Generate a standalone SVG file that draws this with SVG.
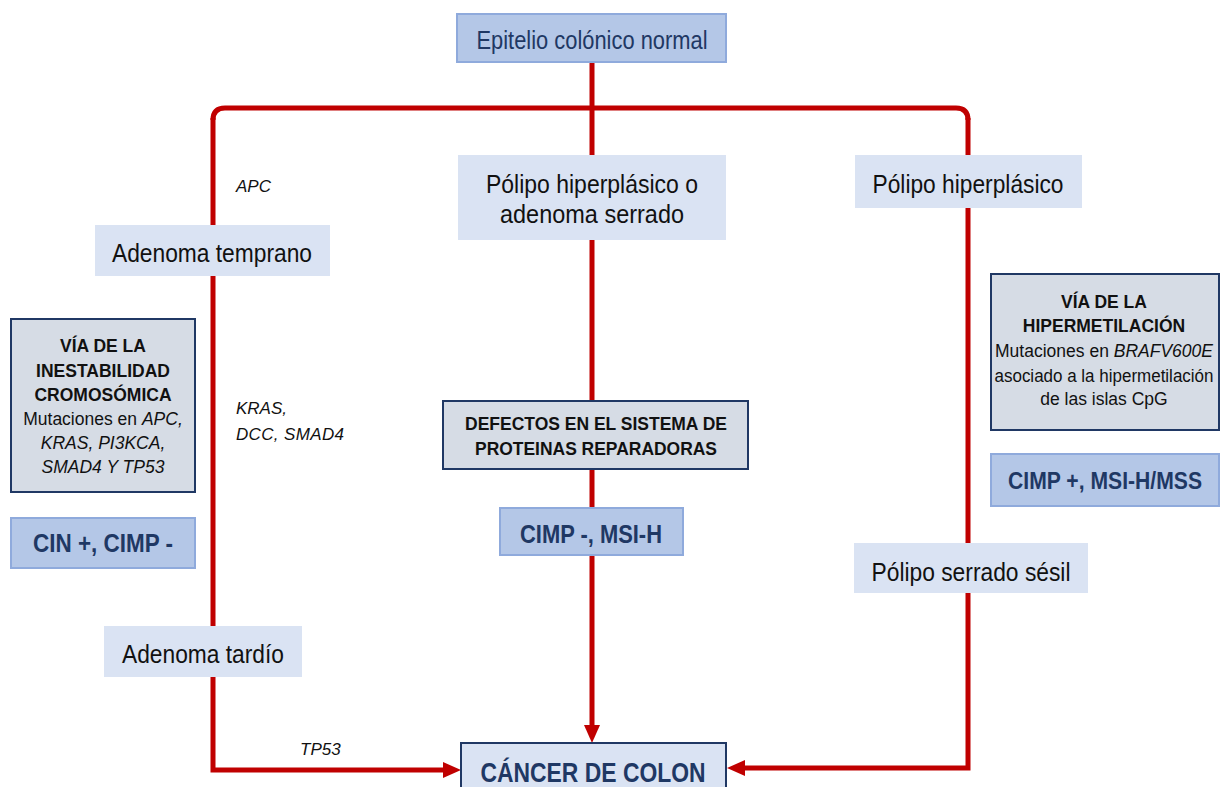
<svg xmlns="http://www.w3.org/2000/svg" width="1220" height="787" viewBox="0 0 1220 787">
<style>
.lb{fill:#dae3f3;stroke:none}
.mb{fill:#b4c7e7;stroke:#8faadc;stroke-width:2}
.gb{fill:#d6dce5;stroke:#203864;stroke-width:2}
.cb{fill:#dae3f3;stroke:#203864;stroke-width:2}
.t{font-family:"Liberation Sans",Arial,sans-serif;font-size:25px;fill:#111;text-anchor:middle}
.nv{font-family:"Liberation Sans",Arial,sans-serif;font-size:26px;font-weight:bold;fill:#1f3864;text-anchor:middle}
.s{font-family:"Liberation Sans",Arial,sans-serif;font-size:17.5px;fill:#111;text-anchor:middle}
.sb{font-weight:bold}
.gi{font-family:"Liberation Sans",Arial,sans-serif;font-size:17px;font-style:italic;fill:#111}
.ln{fill:none;stroke:#c00000;stroke-width:5}
</style>
<defs>
<marker id="ah" markerUnits="userSpaceOnUse" markerWidth="18" markerHeight="18" refX="0" refY="8" orient="auto">
<path d="M0,0 L18,8 L0,16 z" fill="#c00000"/>
</marker>
</defs>
<g id="connectors">
<path class="ln" d="M213 120 Q213 108 225 108 L956 108 Q968 108 968 120"/>
<path class="ln" d="M592 62 L592 725" marker-end="url(#ah)"/>
<path class="ln" d="M213 118 L213 770 L443 770" marker-end="url(#ah)"/>
<path class="ln" d="M968 118 L968 768 L745 768" marker-end="url(#ah)"/>
</g>
<g id="epitelio">
<rect class="mb" x="457" y="14" width="269" height="48"/>
<text class="t" x="592" y="49" style="fill:#1f3864" textLength="231" lengthAdjust="spacingAndGlyphs">Epitelio colónico normal</text>
</g>
<g id="polipo-hiper-serrado">
<rect class="lb" x="458" y="155" width="268" height="85"/>
<text class="t" x="592" y="193" textLength="212" lengthAdjust="spacingAndGlyphs">Pólipo hiperplásico o</text>
<text class="t" x="592" y="223" textLength="184" lengthAdjust="spacingAndGlyphs">adenoma serrado</text>
</g>
<g id="polipo-hiper">
<rect class="lb" x="855" y="155" width="227" height="53"/>
<text class="t" x="968" y="193" textLength="191" lengthAdjust="spacingAndGlyphs">Pólipo hiperplásico</text>
</g>
<g id="adenoma-temprano">
<rect class="lb" x="95" y="225" width="235" height="51"/>
<text class="t" x="212" y="262" textLength="200" lengthAdjust="spacingAndGlyphs">Adenoma temprano</text>
</g>
<g id="lbl-apc"><text class="gi" x="236" y="192">APC</text></g>
<g id="lbl-kras">
<text class="gi" x="236" y="414">KRAS,</text>
<text class="gi" x="236" y="440" textLength="108">DCC, SMAD4</text>
</g>
<g id="lbl-tp53"><text class="gi" x="300" y="755">TP53</text></g>
<g id="via-cin">
<rect class="gb" x="11" y="319" width="184" height="173"/>
<text class="s sb" x="103" y="352">VÍA DE LA</text>
<text class="s sb" x="103" y="377">INESTABILIDAD</text>
<text class="s sb" x="103" y="401">CROMOSÓMICA</text>
<text class="s" x="103" y="425">Mutaciones en <tspan font-style="italic">APC,</tspan></text>
<text class="s" x="103" y="449" font-style="italic">KRAS, PI3KCA,</text>
<text class="s" x="103" y="473" font-style="italic">SMAD4 Y TP53</text>
</g>
<g id="cin">
<rect class="mb" x="11" y="518" width="184" height="50"/>
<text class="nv" x="103" y="552" textLength="140" lengthAdjust="spacingAndGlyphs">CIN +, CIMP -</text>
</g>
<g id="defectos">
<rect class="gb" x="443" y="401" width="305" height="68"/>
<text class="s sb" x="596" y="430" style="font-size:18.5px" textLength="262" lengthAdjust="spacingAndGlyphs">DEFECTOS EN EL SISTEMA DE</text>
<text class="s sb" x="596" y="455" style="font-size:18.5px" textLength="242" lengthAdjust="spacingAndGlyphs">PROTEINAS REPARADORAS</text>
</g>
<g id="msi-h">
<rect class="mb" x="500" y="508" width="183" height="47"/>
<text class="nv" x="591" y="543" textLength="142" lengthAdjust="spacingAndGlyphs">CIMP -, MSI-H</text>
</g>
<g id="via-hiper">
<rect class="gb" x="991" y="274" width="228" height="156"/>
<text class="s sb" x="1104" y="308">VÍA DE LA</text>
<text class="s sb" x="1104" y="332">HIPERMETILACIÓN</text>
<text class="s" x="1104" y="357">Mutaciones en <tspan font-style="italic">BRAFV600E</tspan></text>
<text class="s" x="1104" y="382" textLength="219" lengthAdjust="spacingAndGlyphs">asociado a la hipermetilación</text>
<text class="s" x="1104" y="405">de las islas CpG</text>
</g>
<g id="cimp-plus">
<rect class="mb" x="991" y="454" width="228" height="52"/>
<text class="nv" x="1105" y="489" style="font-size:23px" textLength="194" lengthAdjust="spacingAndGlyphs">CIMP +, MSI-H/MSS</text>
</g>
<g id="polipo-serrado">
<rect class="lb" x="854" y="543" width="234" height="50"/>
<text class="t" x="971" y="581" textLength="199" lengthAdjust="spacingAndGlyphs">Pólipo serrado sésil</text>
</g>
<g id="adenoma-tardio">
<rect class="lb" x="104" y="626" width="198" height="51"/>
<text class="t" x="203" y="663" textLength="162" lengthAdjust="spacingAndGlyphs">Adenoma tardío</text>
</g>
<g id="cancer">
<rect class="cb" x="461" y="743" width="265" height="50"/>
<text class="nv" x="593" y="782" style="font-size:28px" textLength="225" lengthAdjust="spacingAndGlyphs">CÁNCER DE COLON</text>
</g>
</svg>
